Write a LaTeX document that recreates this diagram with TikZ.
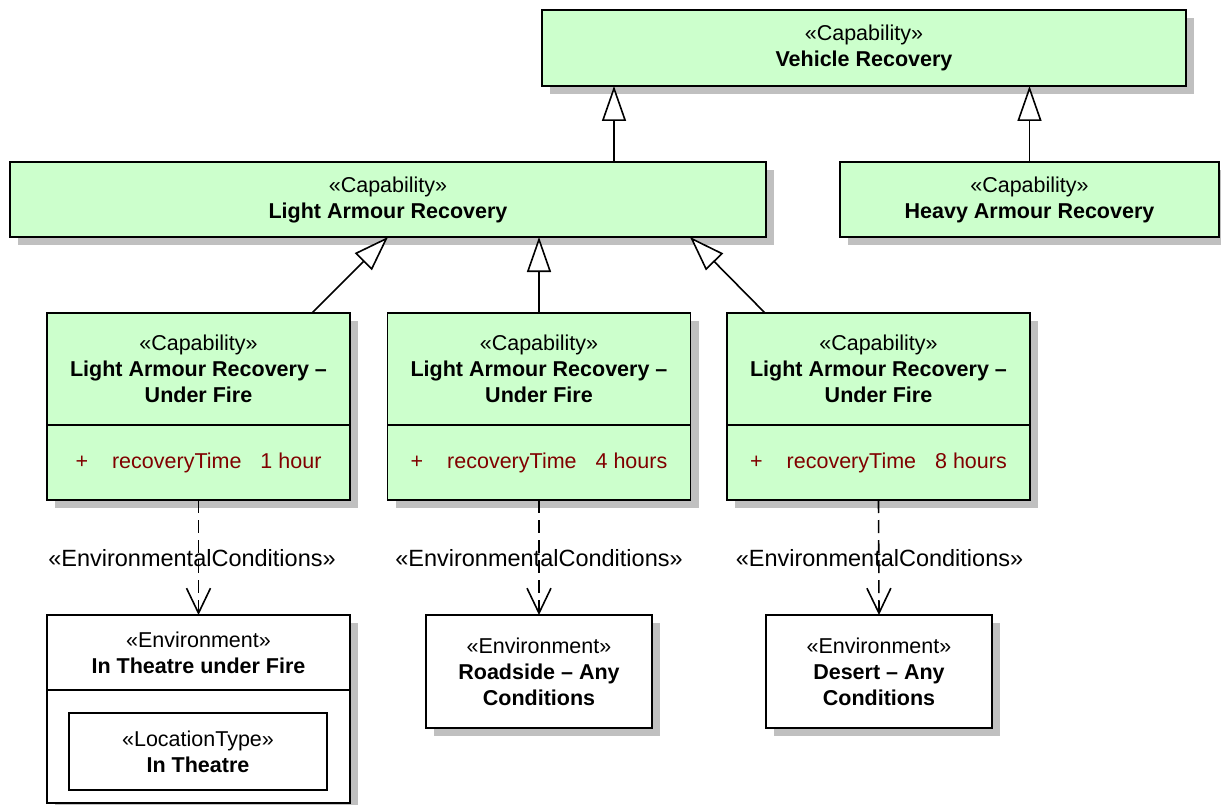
\documentclass[tikz,border=0pt]{standalone}
\usepackage{fontspec}
\setmainfont{Liberation Sans}
\usetikzlibrary{arrows.meta}
\usetikzlibrary{shadows}
\usetikzlibrary{positioning}
\definecolor{capgreen}{RGB}{204,255,204}
\definecolor{attrred}{RGB}{128,0,0}
\definecolor{shadegray}{RGB}{192,192,192}
\tikzstyle{box}=[draw, line width=1.5pt, inner sep=0pt, outer sep=0pt, align=center, font=\fontsize{21.5}{26}\selectfont, drop shadow={shadow xshift=8pt, shadow yshift=-8pt, fill=shadegray, opacity=1}]
\tikzstyle{cbox}=[box, fill=capgreen]
\tikzstyle{ebox}=[box, fill=white]
\tikzstyle{genarrow}=[line width=1.6pt, -{Triangle[open, fill=white, length=35pt, width=24pt]}]
\tikzstyle{deparrow}=[line width=1.6pt, dash pattern=on 13pt off 7pt, -{Straight Barb[length=25pt, width=24pt]}]
\tikzstyle{deplabel}=[inner sep=0pt, font=\fontsize{23.5}{28}\selectfont]

\begin{document}
\begin{tikzpicture}[x=1pt, y=-1pt]
        \useasboundingbox (0,0) rectangle (1221,805);
        % capabilities
        \node[cbox, minimum width=644pt, minimum height=76pt] (vr) at (864,48) {«Capability»\\{\bfseries Vehicle Recovery}};
        \node[cbox, minimum width=756pt, minimum height=75pt] (lar) at (388,199.5) {«Capability»\\{\bfseries Light Armour Recovery}};
        \node[cbox, minimum width=379pt, minimum height=75pt] (har) at (1029.5,199.5) {«Capability»\\{\bfseries Heavy Armour Recovery}};
        \node[cbox, minimum width=303pt, minimum height=112pt] (uf1) at (198.5,369) {«Capability»\\{\bfseries Light Armour Recovery –}\\{\bfseries Under Fire}};
        \node[cbox, minimum width=303pt, minimum height=75pt, text=attrred, below=0pt of uf1] (uf1attr) {+\hspace{24pt}recoveryTime\hspace{19pt}1 hour};
        \node[cbox, minimum width=303pt, minimum height=112pt] (uf2) at (539,369) {«Capability»\\{\bfseries Light Armour Recovery –}\\{\bfseries Under Fire}};
        \node[cbox, minimum width=303pt, minimum height=75pt, text=attrred, below=0pt of uf2] (uf2attr) {+\hspace{24pt}recoveryTime\hspace{19pt}4 hours};
        \node[cbox, minimum width=303pt, minimum height=112pt] (uf3) at (878.5,369) {«Capability»\\{\bfseries Light Armour Recovery –}\\{\bfseries Under Fire}};
        \node[cbox, minimum width=303pt, minimum height=75pt, text=attrred, below=0pt of uf3] (uf3attr) {+\hspace{24pt}recoveryTime\hspace{19pt}8 hours};
        % environments
        \node[ebox, minimum width=303pt, minimum height=75pt] (env1) at (198.5,652.5) {«Environment»\\{\bfseries In Theatre under Fire}};
        \node[ebox, minimum width=303pt, minimum height=113pt, below=0pt of env1] (env1parts) {};
        \node[draw, line width=1.5pt, fill=white, minimum width=258pt, minimum height=77pt, align=center, font=\fontsize{21.5}{26}\selectfont] (loc) at (198,751.5) {«LocationType»\\{\bfseries In Theatre}};
        \node[ebox, minimum width=226pt, minimum height=113pt] (env2) at (539,671.5) {«Environment»\\{\bfseries Roadside – Any}\\{\bfseries Conditions}};
        \node[ebox, minimum width=226pt, minimum height=113pt] (env3) at (879,671.5) {«Environment»\\{\bfseries Desert – Any}\\{\bfseries Conditions}};
        % generalizations
        \draw[genarrow] ([xshift=226pt]lar.north) -- ([xshift=-250pt]vr.south);
        \draw[genarrow] (har.north) -- (har.north |- vr.south);
        \draw[genarrow] ([xshift=113.5pt]uf1.north) -- (lar.south);
        \draw[genarrow] (uf2.north) -- (uf2.north |- lar.south);
        \draw[genarrow] ([xshift=-113.5pt]uf3.north) -- ([xshift=302pt]lar.south);
        % dependencies
        \draw[deparrow] (uf1attr.south) -- (env1.north);
        \draw[deparrow] (uf2attr.south) -- (env2.north);
        \draw[deparrow] (uf3attr.south) -- (env3.north);
        \node[deplabel] (dep1) at (192,558) {«EnvironmentalConditions»};
        \node[deplabel] (dep2) at (539,558) {«EnvironmentalConditions»};
        \node[deplabel] (dep3) at (879.5,558) {«EnvironmentalConditions»};
    \end{tikzpicture}
\end{document}
